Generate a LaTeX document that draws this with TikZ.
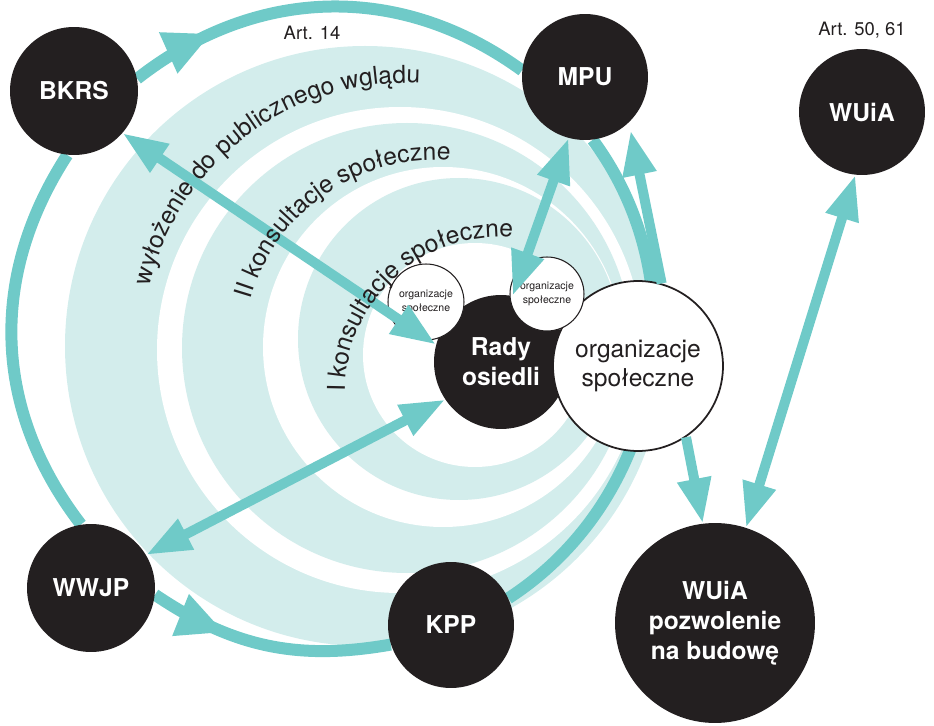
\documentclass[tikz,border=0pt]{standalone}
\usepackage{fontspec}
\setmainfont{TeX Gyre Heros}
\usetikzlibrary{arrows.meta,backgrounds,decorations.markings,decorations.text}
\definecolor{ink}{HTML}{231F20}
\definecolor{sea}{HTML}{6FCAC8}
\definecolor{foam}{HTML}{D3EDEC}
\newcommand{\nodefont}{\fontsize{14}{17}\selectfont}
\newcommand{\tinyfont}{\fontsize{6}{7.5}\selectfont}
\tikzset{
    office/.style={circle, fill=ink, text=white, inner sep=0pt, align=center,
        font=\nodefont\bfseries, minimum size=#1},
    ngo/.style={circle, fill=white, draw=ink, line width=1pt, inner sep=0pt,
        align=center, text=ink, minimum size=#1},
    artlabel/.style={text=ink, font=\fontsize{10.5}{12}\selectfont},
    link/.style={draw=sea, line width=0.2cm},
    ringline/.style={draw=sea, line width=0.24cm},
    ringtip/.style={postaction={decorate}, decoration={markings,
        mark=at position #1 with {\arrow{Triangle[length=0.95cm,width=0.83cm]}}}},
    band/.style={decorate, decoration={text along path, text color=ink,
        text={|\nodefont|#1}}},
    >={Triangle[length=0.9cm,width=0.64cm]}
}
\begin{document}
\begin{tikzpicture}[x=0.02cm, y=-0.02cm]
    \useasboundingbox (0,0) rectangle (934,726);
    \node[office=2.56cm] (BKRS) at (74,91) {BKRS};
    \node[office=2.52cm] (MPU) at (585,77) {MPU};
    \node[office=2.52cm] (WUiA) at (862,112) {WUiA};
    \node[office=2.56cm] (WWJP) at (91,588) {WWJP};
    \node[office=2.52cm] (KPP) at (451,625) {KPP};
    \node[office=4cm] (WUiAbud) at (715,623) {WUiA\\pozwolenie\\na budowę};
    \node[office=2.68cm] (Rady) at (501,362) {Rady\\osiedli};
    \node[ngo=3.4cm, font=\nodefont] (org) at (638,366) {organizacje\\społeczne};
    \node[ngo=1.52cm, font=\tinyfont, line width=0.6pt] (orgA) at (426,302) {organizacje\\społeczne};
    \node[ngo=1.48cm, font=\tinyfont, line width=0.6pt] (orgB) at (547,294) {organizacje\\społeczne};
    \node[artlabel] (art14) at (312,33) {Art. 14};
    \node[artlabel] (art50) at (862,30) {Art. 50, 61};
    \begin{scope}[on background layer]
        \fill[foam] (365,346) circle[radius=300];
        \fill[white] (400,350) circle[radius=243];
        \fill[foam] (407,348) circle[radius=225];
        \fill[white] (443,347) circle[radius=180];
        \fill[foam] (459,339) circle[radius=161];
        \fill[white] (475,355) circle[radius=112];
        \draw[ringline, ringtip=0.21] (BKRS.11) to[out=38, in=144] (MPU.174);
        \draw[ringline] (MPU.-83) to[out=-53.5, in=33] (KPP.25);
        \draw[ringline, ringtip=0.32] (WWJP.-6) to[out=-34, in=190] (KPP.198);
        \draw[ringline] (BKRS.-96) to[out=237, in=127.5] (WWJP.99);
    \end{scope}
    \draw[link, <->] (BKRS.-41) -- (Rady.165);
    \draw[link, <->] (MPU.-105) -- (Rady.80);
    \draw[link, <->] (Rady.214) -- (WWJP.31);
    \draw[link, ->, shorten >=0.16cm] (org.74) -- (MPU.-46);
    \draw[link, ->] (org.-56) -- (WUiAbud.97);
    \draw[link, <->] (WUiA.-96) -- (WUiAbud.72);
    \path[band={wyłożenie do publicznego wglądu}] (405,345) ++(-167:262) arc[start angle=-167, end angle=-60, radius=262];
    \path[band={II konsultacje społeczne}] (435,352) ++(-164:192) arc[start angle=-164, end angle=-60, radius=192];
    \path[band={I konsultacje społeczne}] (500,392) ++(-180:155) arc[start angle=-180, end angle=-60, radius=155];
\end{tikzpicture}
\end{document}
